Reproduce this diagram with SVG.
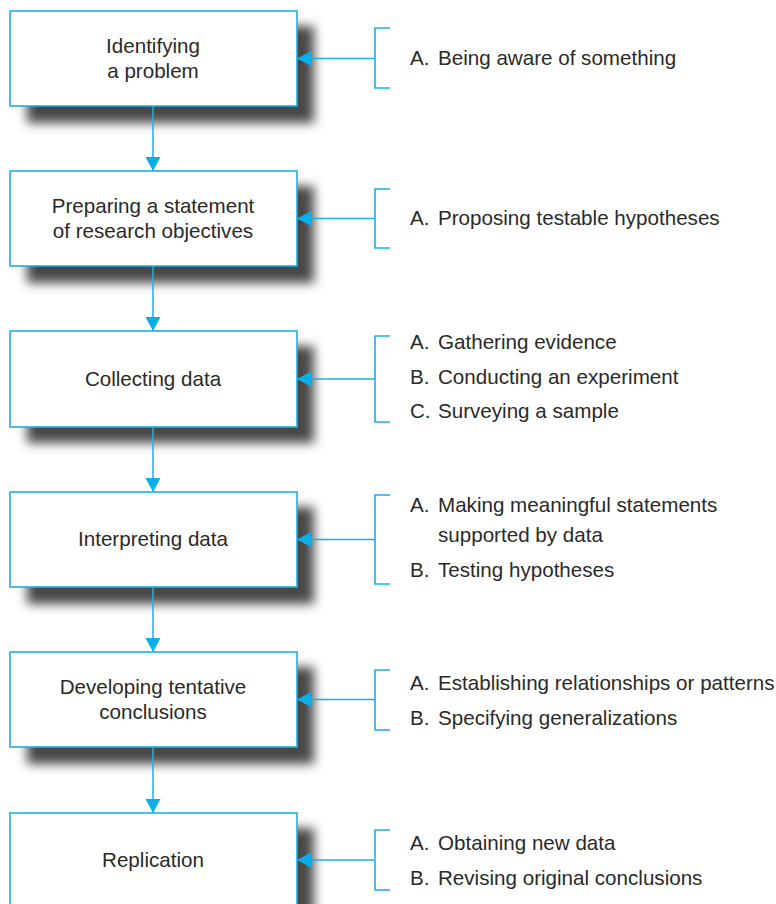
<svg xmlns="http://www.w3.org/2000/svg" width="776" height="904" viewBox="0 0 776 904">
<defs>
<filter id="sh" x="-20%" y="-30%" width="140%" height="160%"><feGaussianBlur stdDeviation="5.5"/></filter>
<marker id="ah" markerUnits="userSpaceOnUse" markerWidth="15" markerHeight="15" refX="14" refY="7.5" orient="auto" viewBox="0 0 15 15"><path d="M0,0 L14,7.5 L0,15 z" fill="#0aaee8"/></marker>
</defs>
<style>
.box{fill:#fff;stroke:#1bb0e6;stroke-width:1.6}
.shadow{fill:#474747;filter:url(#sh)}
.ln{fill:none;stroke:#1bb0e6;stroke-width:1.5}
.br{fill:none;stroke:#1bb0e6;stroke-width:1.6}
text{font-family:"Liberation Sans",Arial,sans-serif;font-size:20.6px;fill:#2a2a2a}
.c{text-anchor:middle}
</style>
<rect width="776" height="904" fill="#fff"/>
<g id="shadows">
<rect class="shadow" x="27" y="26" width="287" height="97"/>
<rect class="shadow" x="27" y="186" width="287" height="97"/>
<rect class="shadow" x="27" y="346" width="287" height="97"/>
<rect class="shadow" x="27" y="507" width="287" height="97"/>
<rect class="shadow" x="27" y="667" width="287" height="97"/>
<rect class="shadow" x="27" y="828" width="287" height="97"/>
</g>
<g id="connectors">
<path class="ln" d="M153,106 V171" marker-end="url(#ah)"/>
<path class="ln" d="M153,266 V331" marker-end="url(#ah)"/>
<path class="ln" d="M153,427 V492" marker-end="url(#ah)"/>
<path class="ln" d="M153,587 V652" marker-end="url(#ah)"/>
<path class="ln" d="M153,747 V813" marker-end="url(#ah)"/>
<path class="ln" d="M375,58.5 H297" marker-end="url(#ah)"/>
<path class="ln" d="M375,218.5 H297" marker-end="url(#ah)"/>
<path class="ln" d="M375,379 H297" marker-end="url(#ah)"/>
<path class="ln" d="M375,539.5 H297" marker-end="url(#ah)"/>
<path class="ln" d="M375,699.5 H297" marker-end="url(#ah)"/>
<path class="ln" d="M375,860 H297" marker-end="url(#ah)"/>
</g>
<g id="n1">
<rect class="box" x="10" y="11" width="287" height="95"/>
<text class="c" x="153" y="53">Identifying</text>
<text class="c" x="153" y="78">a problem</text>
</g>
<g id="n2">
<rect class="box" x="10" y="171" width="287" height="95"/>
<text class="c" x="153" y="213">Preparing a statement</text>
<text class="c" x="153" y="238">of research objectives</text>
</g>
<g id="n3">
<rect class="box" x="10" y="331" width="287" height="96"/>
<text class="c" x="153" y="386">Collecting data</text>
</g>
<g id="n4">
<rect class="box" x="10" y="492" width="287" height="95"/>
<text class="c" x="153" y="546">Interpreting data</text>
</g>
<g id="n5">
<rect class="box" x="10" y="652" width="287" height="95"/>
<text class="c" x="153" y="694">Developing tentative</text>
<text class="c" x="153" y="719">conclusions</text>
</g>
<g id="n6">
<rect class="box" x="10" y="813" width="287" height="100"/>
<text class="c" x="153" y="867">Replication</text>
</g>
<g id="b1">
<path class="br" d="M390,28 H375 V88 H390"/>
<text x="410" y="65">A.</text><text x="438" y="65">Being aware of something</text>
</g>
<g id="b2">
<path class="br" d="M390,189 H375 V248 H390"/>
<text x="410" y="225">A.</text><text x="438" y="225">Proposing testable hypotheses</text>
</g>
<g id="b3">
<path class="br" d="M390,336 H375 V422 H390"/>
<text x="410" y="349">A.</text><text x="438" y="349">Gathering evidence</text>
<text x="410" y="384">B.</text><text x="438" y="384">Conducting an experiment</text>
<text x="410" y="418">C.</text><text x="438" y="418">Surveying a sample</text>
</g>
<g id="b4">
<path class="br" d="M390,495 H375 V584 H390"/>
<text x="410" y="512">A.</text><text x="438" y="512">Making meaningful statements</text>
<text x="438" y="542">supported by data</text>
<text x="410" y="577">B.</text><text x="438" y="577">Testing hypotheses</text>
</g>
<g id="b5">
<path class="br" d="M390,670 H375 V730 H390"/>
<text x="410" y="690">A.</text><text x="438" y="690">Establishing relationships or patterns</text>
<text x="410" y="725">B.</text><text x="438" y="725">Specifying generalizations</text>
</g>
<g id="b6">
<path class="br" d="M390,830 H375 V890 H390"/>
<text x="410" y="850">A.</text><text x="438" y="850">Obtaining new data</text>
<text x="410" y="885">B.</text><text x="438" y="885">Revising original conclusions</text>
</g>
</svg>
